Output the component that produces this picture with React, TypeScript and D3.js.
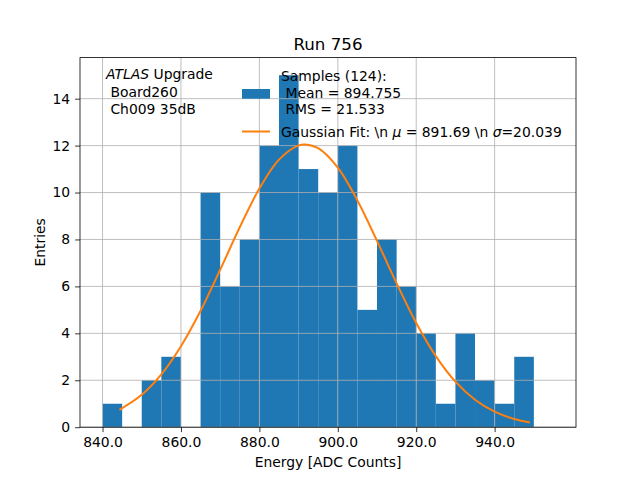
import { useEffect, useRef } from 'react'
import * as d3 from 'd3'

// histogram bins (lower edges, width 5) and counts
const binStarts = [840, 845, 850, 855, 860, 865, 870, 875, 880, 885, 890, 895, 900, 905, 910, 915, 920, 925, 930, 935, 940, 945]
const binCounts = [1, 0, 2, 3, 0, 10, 6, 8, 12, 15, 11, 10, 12, 5, 8, 6, 4, 1, 4, 2, 1, 3]
const binWidth = 5

// gaussian fit curve
const fitX = [844.3, 850, 855, 860, 865, 870, 875, 880, 885, 890, 891.7, 895, 900, 905, 910, 915, 920, 925, 930, 935, 940, 945, 949]
const fitY = [0.74, 1.38, 2.25, 3.45, 4.96, 6.71, 8.52, 10.17, 11.4, 12.01, 12.05, 11.89, 11.06, 9.66, 7.94, 6.13, 4.44, 3.03, 1.94, 1.17, 0.66, 0.35, 0.2]

const xTicks = [840, 860, 880, 900, 920, 940]
const yTicks = [0, 2, 4, 6, 8, 10, 12, 14]

const infoLines = ['Board260', 'Ch009 35dB']
const sampleLines = ['Samples (124):', ' Mean = 894.755', ' RMS = 21.533']

export default function App() {
  const svgRef = useRef<SVGSVGElement>(null)

  useEffect(() => {
    if (!svgRef.current) return
    document.body.style.margin = '0'

    const svg = d3.select(svgRef.current)
    svg.selectAll('*').remove()

    const width = 640
    const height = 480
    const margin = { top: 57.6, right: 64, bottom: 52.8, left: 80 }
    const innerWidth = width - margin.left - margin.right
    const innerHeight = height - margin.top - margin.bottom
    const font = 'DejaVu Sans, sans-serif'
    const blue = '#1f77b4'
    const orange = '#ff7f0e'

    svg.attr('width', width).attr('height', height)
      .style('font-family', font)
    svg.append('rect').attr('width', width).attr('height', height).attr('fill', '#fff')

    const g = svg.append('g')
      .attr('transform', `translate(${margin.left},${margin.top})`)

    const x = d3.scaleLinear().domain([834.25, 960.75]).range([0, innerWidth])
    const y = d3.scaleLinear().domain([0, 15.75]).range([innerHeight, 0])

    // bars
    g.append('g')
      .selectAll('rect')
      .data(binStarts.map((b, i) => ({ b, c: binCounts[i] })).filter(d => d.c > 0))
      .join('rect')
      .attr('x', d => x(d.b))
      .attr('width', d => x(d.b + binWidth) - x(d.b))
      .attr('y', d => y(d.c))
      .attr('height', d => y(0) - y(d.c))
      .attr('fill', blue)

    // grid (drawn above the bars)
    const grid = g.append('g').attr('stroke', '#b0b0b0').attr('stroke-width', 0.8)
    grid.selectAll('.gx').data(xTicks).join('line')
      .attr('x1', d => x(d)).attr('x2', d => x(d))
      .attr('y1', 0).attr('y2', innerHeight)
    grid.selectAll('.gy').data(yTicks).join('line')
      .attr('y1', d => y(d)).attr('y2', d => y(d))
      .attr('x1', 0).attr('x2', innerWidth)

    // fit line
    const line = d3.line<number>()
      .x((_, i) => x(fitX[i]))
      .y(d => y(d))
      .curve(d3.curveCatmullRom.alpha(0.5))
    g.append('path')
      .datum(fitY)
      .attr('fill', 'none')
      .attr('stroke', orange)
      .attr('stroke-width', 2)
      .attr('d', line)

    // axes
    const xAxis = g.append('g')
      .attr('transform', `translate(0,${innerHeight})`)
      .call(d3.axisBottom(x).tickValues(xTicks).tickFormat(d => (+d).toFixed(1)).tickSize(4.9).tickPadding(4.9))
    const yAxis = g.append('g')
      .call(d3.axisLeft(y).tickValues(yTicks).tickSize(4.9).tickPadding(4.9))
    for (const ax of [xAxis, yAxis]) {
      ax.select('.domain').remove()
      ax.selectAll('text').attr('font-size', '13.9px').attr('font-family', font).attr('fill', '#000')
      ax.selectAll('line').attr('stroke', '#000').attr('stroke-width', 0.8)
    }

    g.append('rect')
      .attr('width', innerWidth).attr('height', innerHeight)
      .attr('fill', 'none').attr('stroke', '#000').attr('stroke-width', 0.8)

    // labels
    svg.append('text')
      .attr('x', margin.left + innerWidth / 2).attr('y', 50)
      .attr('text-anchor', 'middle').attr('font-size', '16.7px')
      .text('Run 756')
    svg.append('text')
      .attr('x', margin.left + innerWidth / 2).attr('y', 467)
      .attr('text-anchor', 'middle').attr('font-size', '13.9px')
      .text('Energy [ADC Counts]')
    svg.append('text')
      .attr('transform', `translate(45,${margin.top + innerHeight / 2}) rotate(-90)`)
      .attr('text-anchor', 'middle').attr('font-size', '13.9px')
      .text('Entries')

    // ATLAS info block
    const info = svg.append('text').attr('font-size', '13.9px').style('white-space', 'pre')
    info.append('tspan').attr('x', 106).attr('y', 79).attr('font-style', 'italic').text('ATLAS')
    info.append('tspan').text(' Upgrade')
    infoLines.forEach((t, i) => {
      svg.append('text').attr('font-size', '13.9px').style('white-space', 'pre')
        .attr('x', 106).attr('y', 97 + i * 16.5).text(' ' + t)
    })

    // legend (no frame)
    const legend = svg.append('g').attr('font-size', '13.9px')
    legend.append('rect')
      .attr('x', 242).attr('y', 89).attr('width', 28).attr('height', 9.7)
      .attr('fill', blue)
    sampleLines.forEach((t, i) => {
      legend.append('text').style('white-space', 'pre')
        .attr('x', 281).attr('y', 81 + i * 16.6).text(t)
    })
    legend.append('line')
      .attr('x1', 242).attr('x2', 270).attr('y1', 131.5).attr('y2', 131.5)
      .attr('stroke', orange).attr('stroke-width', 2)
    const fitLabel = legend.append('text').style('white-space', 'pre')
      .attr('x', 281).attr('y', 136.5)
    fitLabel.append('tspan').text('Gaussian Fit: \\n ')
    fitLabel.append('tspan').attr('font-style', 'italic').text('\u03bc')
    fitLabel.append('tspan').text(' = 891.69 \\n ')
    fitLabel.append('tspan').attr('font-style', 'italic').text('\u03c3')
    fitLabel.append('tspan').text('=20.039')
  }, [])

  return <svg ref={svgRef} style={{ display: 'block' }} />
}
